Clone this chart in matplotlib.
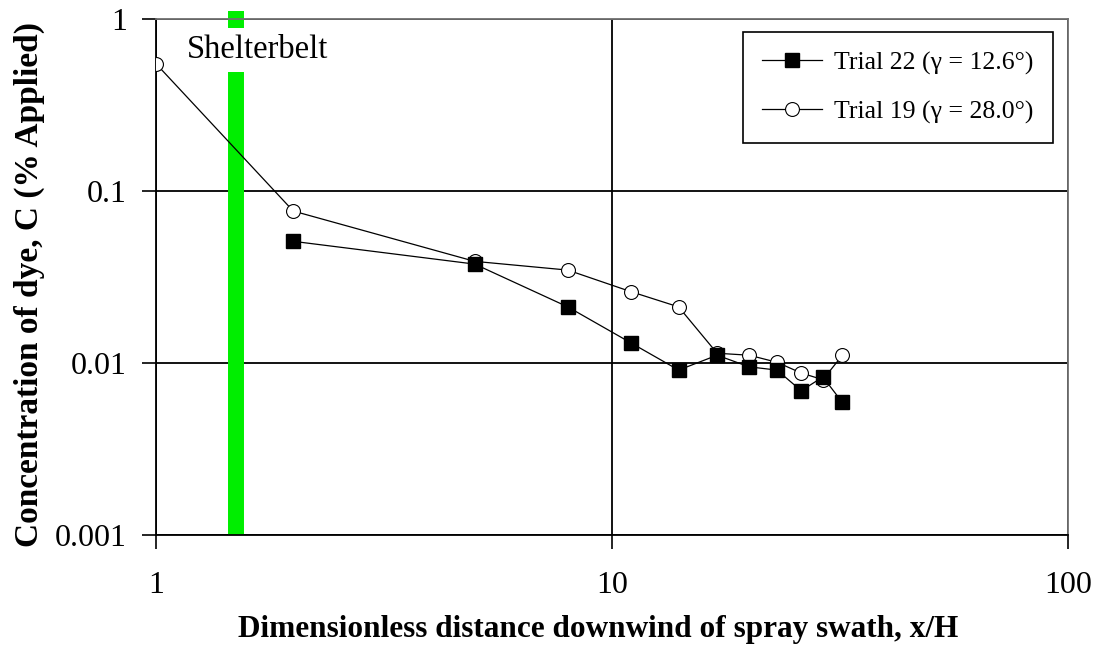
import matplotlib

matplotlib.use("Agg")
import matplotlib.pyplot as plt
from matplotlib.ticker import FixedLocator, NullLocator, FixedFormatter

plt.rcParams["font.family"] = ["Liberation Serif", "DejaVu Serif"]

# x/H and concentration (% applied) for each trial
trial22_x = [2, 5, 8, 11, 14, 17, 20, 23, 26, 29, 32]
trial22_c = [0.051, 0.0376, 0.0212, 0.0131, 0.0091, 0.0111, 0.0095, 0.0091, 0.0069, 0.0083, 0.0059]
trial19_x = [1, 2, 5, 8, 11, 14, 17, 20, 23, 26, 29, 32]
trial19_c = [0.55, 0.0765, 0.039, 0.0347, 0.026, 0.0212, 0.0114, 0.0111, 0.0101, 0.00875, 0.0080, 0.0111]

shelterbelt_x = 1.5
x_ticks = [1, 10, 100]
y_ticks = [0.001, 0.01, 0.1, 1]
y_tick_labels = ["0.001", "0.01", "0.1", "1"]

fig = plt.figure(figsize=(11.03, 6.45), dpi=100)
ax = fig.add_axes([0.1414, 0.1705, 0.8269, 0.8])
ax.set_xscale("log")
ax.set_yscale("log")
ax.set_xlim(1, 100)
ax.set_ylim(0.001, 1)

# shelterbelt band, sticking out above the plot area
ax.vlines(shelterbelt_x, 0.001, 1.11, color="#00ee00", lw=11.5, capstyle="butt",
          clip_on=False, zorder=2)
ax.text(1.674, 0.66, "Shelterbelt", fontsize=23.5, ha="center", va="center", zorder=3,
        bbox=dict(facecolor="white", edgecolor="none", pad=5))

ax.plot(trial22_x, trial22_c, color="black", lw=0.9, marker="s", ms=10,
        mfc="black", mec="black", zorder=5, label="Trial 22 (γ = 12.6°)")
ax.plot(trial19_x, trial19_c, color="black", lw=0.9, marker="o", ms=10,
        mfc="white", mec="black", mew=0.8, zorder=4, label="Trial 19 (γ = 28.0°)")

ax.xaxis.set_major_locator(FixedLocator(x_ticks))
ax.xaxis.set_major_formatter(FixedFormatter([str(v) for v in x_ticks]))
ax.xaxis.set_minor_locator(NullLocator())
ax.yaxis.set_major_locator(FixedLocator(y_ticks))
ax.yaxis.set_major_formatter(FixedFormatter(y_tick_labels))
ax.yaxis.set_minor_locator(NullLocator())
ax.tick_params(axis="both", which="major", direction="out", length=10, width=1.2,
               labelsize=23, color="black")
ax.tick_params(axis="x", pad=16)
ax.tick_params(axis="y", pad=11)

ax.grid(True, which="major", color="black", lw=1.3, zorder=1)
ax.set_axisbelow(True)
for side in ["left", "bottom"]:
    ax.spines[side].set_color("black")
    ax.spines[side].set_linewidth(1.3)
for side in ["top", "right"]:
    ax.spines[side].set_color("#707070")
    ax.spines[side].set_linewidth(1.3)

ax.set_xlabel("Dimensionless distance downwind of spray swath, x/H",
              fontsize=22.5, fontweight="bold")
ax.xaxis.set_label_coords(0.4846, -0.155)
ax.set_ylabel("Concentration of dye, C (% Applied)", fontsize=24,
              fontweight="bold")
ax.yaxis.set_label_coords(-0.122, 0.486)

leg = ax.legend(loc="upper right", bbox_to_anchor=(0.9836, 0.975), fontsize=18.5,
                frameon=True, fancybox=False, edgecolor="black", framealpha=1,
                handlelength=2.3, handletextpad=0.5, borderpad=0.75,
                labelspacing=1.0, borderaxespad=0)
leg.get_frame().set_linewidth(1.2)

fig.savefig("out.png", dpi=100)
